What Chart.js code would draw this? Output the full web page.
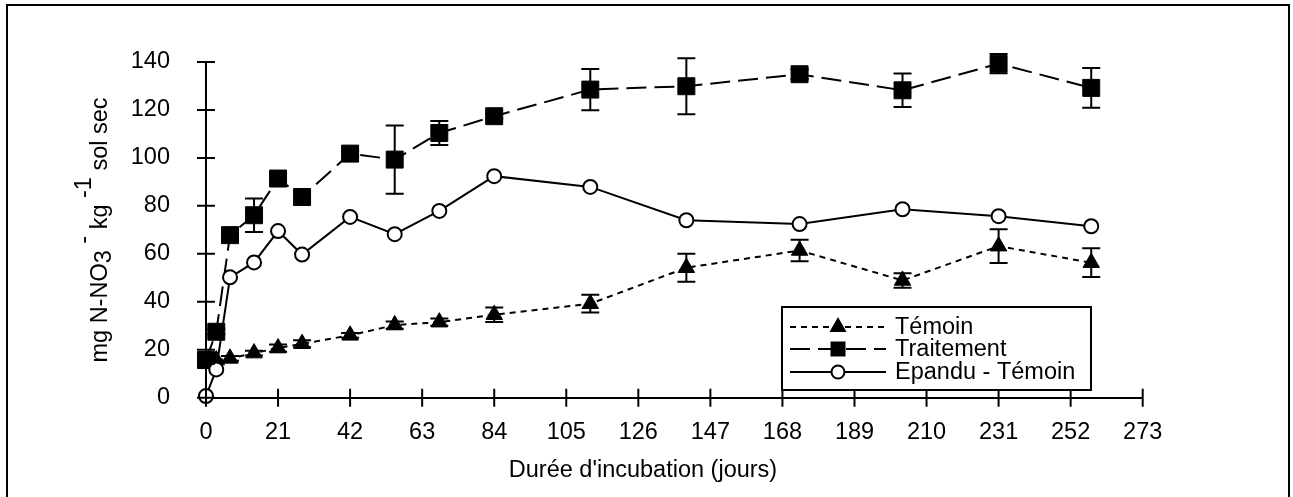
<!DOCTYPE html>
<html>
<head>
<meta charset="utf-8">
<script src="https://cdn.jsdelivr.net/npm/chart.js@4/dist/chart.umd.min.js"></script>
<style>
  html, body { margin: 0; padding: 0; background: #fff; }
  canvas { display: block; }
</style>
</head>
<body>
<canvas id="chart" width="1293" height="497"></canvas>
<script>
// sampling days (x) shared by the three series
const days = [0, 3, 7, 14, 21, 28, 42, 55, 68, 84, 112, 140, 173, 203, 231, 258];

const temoin = [15, 15.7, 16.4, 18.6, 20.7, 22.5, 26, 30.3, 31.5, 34.6, 39.2, 54.2, 61.4, 48.9, 63.2, 56.3];
const temoinErr = [0, 0, 1, 1, 1.5, 1.5, 1, 1.5, 1.5, 3, 3.7, 5.8, 4.5, 3, 7, 6];

const traitement = [15.7, 27.5, 67.8, 76.1, 91.4, 83.7, 101.8, 99.3, 110.4, 117.4, 128.5, 129.9, 134.9, 128.2, 139.3, 129.2];
const traitementErr = [1.5, 1, 2, 7, 2, 2, 1, 14.2, 5, 1, 8.6, 11.7, 2, 7, 4, 8.3];

const epandu = [0.7, 11.8, 50.2, 56.4, 69.5, 59.7, 75.4, 68.2, 77.9, 92.4, 87.9, 74, 72.4, 78.6, 75.7, 71.5];

const xTicks = [0, 21, 42, 63, 84, 105, 126, 147, 168, 189, 210, 231, 252, 273];
const yTicks = [0, 20, 40, 60, 80, 100, 120, 140];

const FONT = 'Liberation Sans, Arial, sans-serif';
const FS = 23.5;
Chart.defaults.font.family = FONT;
Chart.defaults.color = '#000';

const pts = arr => days.map((d, i) => ({ x: d, y: arr[i] }));

// error bars with caps
const errorBars = {
  id: 'errorBars',
  afterDatasetsDraw(chart) {
    const { ctx, scales: { x, y } } = chart;
    ctx.save();
    ctx.strokeStyle = '#000';
    ctx.lineWidth = 2;
    chart.data.datasets.forEach(ds => {
      if (!ds.errors) return;
      ds.data.forEach((p, j) => {
        const e = ds.errors[j];
        if (!e) return;
        const px = x.getPixelForValue(p.x);
        const top = y.getPixelForValue(p.y + e);
        const bot = y.getPixelForValue(p.y - e);
        ctx.beginPath();
        ctx.moveTo(px, top); ctx.lineTo(px, bot);
        ctx.moveTo(px - 9, top); ctx.lineTo(px + 9, top);
        ctx.moveTo(px - 9, bot); ctx.lineTo(px + 9, bot);
        ctx.stroke();
      });
    });
    ctx.restore();
  }
};

// frame, crossing tick marks, axis titles, legend
const decor = {
  id: 'decor',
  beforeDraw(chart) {
    const ctx = chart.ctx;
    ctx.save();
    ctx.strokeStyle = '#000';
    ctx.lineWidth = 2;
    ctx.strokeRect(7, 5, 1282, 500);
    ctx.restore();
  },
  afterDraw(chart) {
    const { ctx, chartArea: a, scales: { x, y } } = chart;
    ctx.save();
    ctx.strokeStyle = '#000';
    ctx.lineWidth = 2;
    ctx.beginPath();
    xTicks.forEach(v => {
      const px = x.getPixelForValue(v);
      ctx.moveTo(px, a.bottom - 9); ctx.lineTo(px, a.bottom + 9);
    });
    yTicks.forEach(v => {
      const py = y.getPixelForValue(v);
      ctx.moveTo(a.left - 9, py); ctx.lineTo(a.left + 9, py);
    });
    ctx.stroke();

    // x title
    ctx.fillStyle = '#000';
    ctx.font = FS + 'px ' + FONT;
    ctx.textAlign = 'center';
    ctx.textBaseline = 'alphabetic';
    ctx.fillText("Durée d'incubation (jours)", 643, 477);

    // y title with sub/superscripts
    const parts = [['mg N-NO', 0], ['3', 4], [' -', -16], [' kg ', 0], ['-1', -16], [' sol sec', 0]];
    const total = parts.reduce((s, p) => s + ctx.measureText(p[0]).width, 0);
    ctx.translate(107, 230);
    ctx.rotate(-Math.PI / 2);
    ctx.textAlign = 'left';
    let cx = -total / 2;
    parts.forEach(([t, dy]) => {
      ctx.fillText(t, cx, dy);
      cx += ctx.measureText(t).width;
    });
    ctx.setTransform(1, 0, 0, 1, 0, 0);

    // legend
    ctx.fillStyle = '#fff';
    ctx.fillRect(782, 307, 309, 83);
    ctx.strokeRect(782, 307, 309, 83);
    const items = [
      { label: 'Témoin', y: 327, dash: [6, 5], style: 'triangle' },
      { label: 'Traitement', y: 349, dash: [20, 8], style: 'rect' },
      { label: 'Epandu - Témoin', y: 372, dash: [], style: 'circle' }
    ];
    items.forEach(it => {
      ctx.setLineDash(it.dash);
      ctx.lineWidth = 2;
      ctx.beginPath();
      ctx.moveTo(790, it.y); ctx.lineTo(886, it.y);
      ctx.stroke();
      ctx.setLineDash([]);
      ctx.beginPath();
      if (it.style === 'triangle') {
        ctx.moveTo(838, it.y - 10); ctx.lineTo(846.5, it.y + 5); ctx.lineTo(829.5, it.y + 5); ctx.closePath();
        ctx.fillStyle = '#000'; ctx.fill();
      } else if (it.style === 'rect') {
        ctx.rect(830.5, it.y - 7.5, 15, 15);
        ctx.fillStyle = '#000'; ctx.fill();
      } else {
        ctx.arc(838, it.y, 6.5, 0, Math.PI * 2);
        ctx.fillStyle = '#fff'; ctx.fill();
        ctx.lineWidth = 2; ctx.stroke();
      }
      ctx.fillStyle = '#000';
      ctx.font = FS + 'px ' + FONT;
      ctx.textAlign = 'left';
      ctx.textBaseline = 'middle';
      ctx.fillText(it.label, 895, it.y + 1);
    });
    ctx.restore();
  }
};

new Chart(document.getElementById('chart'), {
  type: 'line',
  data: {
    datasets: [
      {
        label: 'Témoin', data: pts(temoin), errors: temoinErr, order: 2,
        borderColor: '#000', borderWidth: 2, borderDash: [6, 5], tension: 0,
        pointStyle: 'triangle', pointRadius: 9.5, pointBackgroundColor: '#000',
        pointBorderColor: '#000', pointBorderWidth: 1, clip: false
      },
      {
        label: 'Traitement', data: pts(traitement), errors: traitementErr, order: 1,
        borderColor: '#000', borderWidth: 2, borderDash: [20, 8], tension: 0,
        pointStyle: 'rect', pointRadius: 12, pointBackgroundColor: '#000',
        pointBorderColor: '#000', pointBorderWidth: 1, clip: false
      },
      {
        label: 'Epandu - Témoin', data: pts(epandu), order: 0,
        borderColor: '#000', borderWidth: 2, tension: 0,
        pointStyle: 'circle', pointRadius: 7, pointBackgroundColor: '#fff',
        pointBorderColor: '#000', pointBorderWidth: 2, clip: false
      }
    ]
  },
  options: {
    responsive: false,
    animation: false,
    layout: { padding: { left: 0, top: 62, right: 150.3, bottom: 0 } },
    plugins: { legend: { display: false }, tooltip: { enabled: false } },
    scales: {
      x: {
        type: 'linear', min: 0, max: 273,
        afterBuildTicks: s => { s.ticks = xTicks.map(v => ({ value: v })); },
        afterFit: s => { s.height = 99.3; },
        grid: { display: false },
        border: { display: true, color: '#000', width: 2 },
        ticks: { padding: 13, font: { size: FS }, color: '#000', maxRotation: 0, autoSkip: false }
      },
      y: {
        min: 0, max: 140,
        afterBuildTicks: s => { s.ticks = yTicks.map(v => ({ value: v })); },
        afterFit: s => { s.width = 206; },
        grid: { display: false },
        border: { display: true, color: '#000', width: 2 },
        ticks: { padding: 28, font: { size: FS }, color: '#000', autoSkip: false }
      }
    }
  },
  plugins: [errorBars, decor]
});
</script>
</body>
</html>
